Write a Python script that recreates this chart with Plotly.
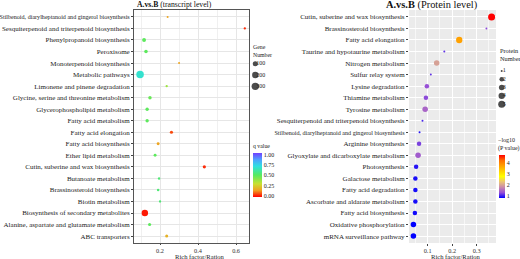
import plotly.graph_objects as go
import numpy as np

# ---------------- data ----------------
cats_l = ["Stilbenoid, diarylheptanoid and gingerol biosynthesis",
          "Sesquiterpenoid and triterpenoid biosynthesis",
          "Phenylpropanoid biosynthesis", "Peroxisome",
          "Monoterpenoid biosynthesis", "Metabolic pathways",
          "Limonene and pinene degradation",
          "Glycine, serine and threonine metabolism",
          "Glycerophospholipid metabolism", "Fatty acid metabolism",
          "Fatty acid elongation", "Fatty acid biosynthesis",
          "Ether lipid metabolism", "Cutin, suberine and wax biosynthesis",
          "Butanoate metabolism", "Brassinosteroid biosynthesis",
          "Biotin metabolism", "Biosynthesis of secondary metabolites",
          "Alanine, aspartate and glutamate metabolism", "ABC transporters"]
rich_l = [0.24, 0.646, 0.116, 0.126, 0.30, 0.095, 0.235, 0.147, 0.132, 0.132,
          0.26, 0.19, 0.174, 0.433, 0.195, 0.19, 0.20, 0.12, 0.145, 0.235]
genes_l = [5, 6, 40, 28, 5, 310, 6, 26, 24, 24,
           18, 14, 14, 20, 7, 8, 6, 205, 18, 16]
qval_l = [0.15, 0.02, 0.5, 0.5, 0.15, 0.7, 0.38, 0.48, 0.5, 0.5,
          0.05, 0.15, 0.5, 0.02, 0.55, 0.55, 0.55, 0.0, 0.5, 0.18]
gene_legend = [100, 200, 300]
q_ticks = [0, 0.25, 0.5, 0.75, 1.0]
q_ticklabels = ["0.00", "0.25", "0.50", "0.75", "1.00"]

cats_r = ["Cutin, suberine and wax biosynthesis", "Brassinosteroid biosynthesis",
          "Fatty acid elongation", "Taurine and hypotaurine metabolism",
          "Nitrogen metabolism", "Sulfur relay system", "Lysine degradation",
          "Thiamine metabolism", "Tyrosine metabolism",
          "Sesquiterpenoid and triterpenoid biosynthesis",
          "Stilbenoid, diarylheptanoid and gingerol biosynthesis",
          "Arginine biosynthesis", "Glyoxylate and dicarboxylate metabolism",
          "Photosynthesis", "Galactose metabolism", "Fatty acid degradation",
          "Ascorbate and aldarate metabolism", "Fatty acid biosynthesis",
          "Oxidative phosphorylation", "mRNA surveillance pathway"]
rich_r = [0.361, 0.34, 0.229, 0.168, 0.137, 0.113, 0.097, 0.093, 0.09, 0.079,
          0.067, 0.065, 0.061, 0.053, 0.05, 0.05, 0.05, 0.048, 0.042, 0.042]
prot_r = [5, 1, 4, 1, 3, 1, 2, 2, 3, 1, 1, 2, 3, 2, 2, 2, 2, 2, 3, 3]
logp_r = [4.7, 1.3, 3.74, 1.16, 2.0, 1.16, 1.33, 1.3, 1.5, 1.08,
          0.97, 1.24, 1.43, 0.97, 0.93, 0.92, 0.92, 0.9, 0.85, 0.85]
prot_legend = [1, 2, 3, 4, 5]
p_ticks = [1, 2, 3, 4]

# ---------------- helpers ----------------
W, H = 520, 259
def fx(p): return p / W
def fy(p): return 1 - p / H
FONT = "Liberation Serif"

def size_l(v):
    v = np.asarray(v, float)
    lo, hi = min(genes_l), max(genes_l)
    return 2 + 5.5 * np.sqrt(np.clip((v - lo) / (hi - lo), 0, 1))

def size_r(v):
    v = np.asarray(v, float)
    lo, hi = min(prot_r), max(prot_r)
    return 2 + 5.0 * np.sqrt(np.clip((v - lo) / (hi - lo), 0, 1))

def ticktext(cats):
    out = []
    for c in cats:
        if c.startswith("Stilbenoid"):
            out.append('<span style="font-size:6.1px">' + c + '</span>')
        else:
            out.append(c)
    return out

cs_q = [[0, "#FF0000"], [0.15, "#F0A020"], [0.3, "#C8E030"], [0.5, "#55EA60"],
        [0.7, "#30E0E0"], [0.85, "#4FA0FF"], [1, "#7040FF"]]
cs_p = [[0, "#0000FF"], [0.125, "#9750D6"], [0.25, "#C98BAA"], [0.375, "#EAC477"],
        [0.5, "#FFFF00"], [0.625, "#FFD100"], [0.75, "#FFA100"], [0.875, "#FF6C00"],
        [1, "#FF0000"]]

fig = go.Figure()

fig.add_trace(go.Scatter(
    x=rich_l, y=cats_l, xaxis="x", yaxis="y", mode="markers",
    marker=dict(size=size_l(genes_l), color=qval_l, colorscale=cs_q,
                cmin=-0.025, cmax=1.055, line=dict(width=0), opacity=1,
                colorbar=dict(x=fx(252.7), xanchor="left", y=fy(174.7), yanchor="middle",
                              len=44, lenmode="pixels", thickness=9, thicknessmode="pixels",
                              outlinewidth=0, xpad=0, ypad=0, ticks="",
                              tickvals=q_ticks, ticktext=q_ticklabels,
                              tickfont=dict(family=FONT, size=6, color="#222"))),
    showlegend=False, hoverinfo="skip"))

fig.add_trace(go.Scatter(
    x=rich_r, y=cats_r, xaxis="x2", yaxis="y2", mode="markers",
    marker=dict(size=size_r(prot_r), color=logp_r, colorscale=cs_p,
                cmin=min(logp_r), cmax=max(logp_r), line=dict(width=0), opacity=1,
                colorbar=dict(x=fx(499), xanchor="left", y=fy(176.5), yanchor="middle",
                              len=43, lenmode="pixels", thickness=6, thicknessmode="pixels",
                              outlinewidth=0, xpad=0, ypad=0, ticks="",
                              tickvals=p_ticks, ticktext=[str(t) for t in p_ticks],
                              tickfont=dict(family=FONT, size=6, color="#222"))),
    showlegend=False, hoverinfo="skip"))

# size legends
fig.add_trace(go.Scatter(
    x=[0] * len(gene_legend), y=list(range(len(gene_legend))), xaxis="x3", yaxis="y3",
    mode="markers", marker=dict(size=size_l(gene_legend), color="black", line=dict(width=0)),
    showlegend=False, hoverinfo="skip"))
fig.add_trace(go.Scatter(
    x=[1] * len(gene_legend), y=list(range(len(gene_legend))), xaxis="x3", yaxis="y3",
    mode="text", text=[str(v) for v in gene_legend], textposition="middle right",
    textfont=dict(family=FONT, size=6, color="#222"),
    showlegend=False, hoverinfo="skip"))
fig.add_trace(go.Scatter(
    x=[0] * len(prot_legend), y=list(range(len(prot_legend))), xaxis="x4", yaxis="y4",
    mode="markers", marker=dict(size=size_r(prot_legend), color="black", line=dict(width=0)),
    showlegend=False, hoverinfo="skip"))
fig.add_trace(go.Scatter(
    x=[1] * len(prot_legend), y=list(range(len(prot_legend))), xaxis="x4", yaxis="y4",
    mode="text", text=[str(v) for v in prot_legend], textposition="middle right",
    textfont=dict(family=FONT, size=6, color="#222"),
    showlegend=False, hoverinfo="skip"))

tickfont = dict(family=FONT, size=7.0, color="#222")
common_x = dict(zeroline=False, ticks="outside", ticklen=1.5,
                tickcolor="#444", tickfont=dict(family=FONT, size=6.3, color="#333"),
                automargin=False, showgrid=True)
common_y = dict(type="category", zeroline=False, ticks="outside", ticklen=2,
                tickcolor="#444", tickfont=tickfont, automargin=False, showgrid=True,
                range=[19.6, -0.6])

fig.update_layout(
    width=W, height=H, margin=dict(l=0, r=0, t=0, b=0),
    paper_bgcolor="white", plot_bgcolor="white",
    font=dict(family=FONT, color="#222"),
    xaxis=dict(domain=[fx(134), fx(249)], range=[0.063, 0.668], anchor="y",
               tick0=0, dtick=0.2, gridcolor="#E6E6E6", gridwidth=0.6,
               minor=dict(dtick=0.1, showgrid=True, gridcolor="#F0F0F0", gridwidth=0.5),
               showline=True, linecolor="#555", linewidth=0.8, mirror=True,
               **common_x),
    yaxis=dict(domain=[fy(243), fy(10)], anchor="x", categoryorder="array",
               categoryarray=cats_l, tickvals=cats_l, ticktext=ticktext(cats_l),
               gridcolor="#E6E6E6", gridwidth=0.6,
               showline=True, linecolor="#555", linewidth=0.8, mirror=True,
               **common_y),
    xaxis2=dict(domain=[fx(409), fx(496)], range=[0.024, 0.379], anchor="y2",
                tick0=0, dtick=0.1, gridcolor="white", gridwidth=0.8, showline=False,
                minor=dict(dtick=0.05, showgrid=True, gridcolor="#F7F7F7", gridwidth=0.5),
                **common_x),
    yaxis2=dict(domain=[fy(243), fy(10)], anchor="x2", categoryorder="array",
                categoryarray=cats_r, tickvals=cats_r, ticktext=ticktext(cats_r),
                gridcolor="white", gridwidth=0.8, showline=False,
                **common_y),
    xaxis3=dict(domain=[fx(250), fx(280)], range=[-5.3, 24.7], visible=False),
    yaxis3=dict(domain=[fy(92), fy(58)], range=[2.5, -0.5], visible=False),
    xaxis4=dict(domain=[fx(497), fx(520)], range=[-4.7, 18.3], visible=False),
    yaxis4=dict(domain=[fy(108.3), fy(66.8)], range=[4.5, -0.5], visible=False),
    shapes=[dict(type="rect", xref="x2 domain", yref="y2 domain", x0=0, x1=1, y0=0, y1=1,
                 fillcolor="#EBEBEB", line=dict(width=0), layer="below")],
    annotations=[
        dict(x=fx(135), y=fy(5), xref="paper", yref="paper", xanchor="left", yanchor="middle",
             text="<b>A.vs.B</b> (transcript level)", showarrow=False,
             font=dict(family=FONT, size=7.7, color="#111")),
        dict(x=fx(384), y=fy(5.5), xref="paper", yref="paper", xanchor="left", yanchor="middle",
             text="<b>A.vs.B</b> (Protein level)", showarrow=False,
             font=dict(family=FONT, size=10.4, color="#111")),
        dict(x=fx(200), y=fy(256), xref="paper", yref="paper", xanchor="center", yanchor="middle",
             text="Rich factor/Ration", showarrow=False,
             font=dict(family=FONT, size=6.6, color="#222")),
        dict(x=fx(456), y=fy(256), xref="paper", yref="paper", xanchor="center", yanchor="middle",
             text="Rich factor/Ration", showarrow=False,
             font=dict(family=FONT, size=6.6, color="#222")),
        dict(x=fx(251), y=fy(51), xref="paper", yref="paper", xanchor="left", yanchor="middle",
             text="Gene<br>Number", showarrow=False, align="left",
             font=dict(family=FONT, size=5.8, color="#222")),
        dict(x=fx(251), y=fy(146), xref="paper", yref="paper", xanchor="left", yanchor="middle",
             text="q value", showarrow=False, align="left",
             font=dict(family=FONT, size=5.8, color="#222")),
        dict(x=fx(497.5), y=fy(54), xref="paper", yref="paper", xanchor="left", yanchor="middle",
             text="Protein<br>Number", showarrow=False, align="left",
             font=dict(family=FONT, size=6.3, color="#222")),
        dict(x=fx(496), y=fy(144.5), xref="paper", yref="paper", xanchor="left", yanchor="middle",
             text="\u2212log10<br>(P value)", showarrow=False, align="left",
             font=dict(family=FONT, size=6, color="#222")),
    ],
)

fig.write_html("out.html", config={"displayModeBar": False},
               post_script="document.body.style.margin='0';document.body.style.padding='0';document.body.style.overflow='hidden';")
